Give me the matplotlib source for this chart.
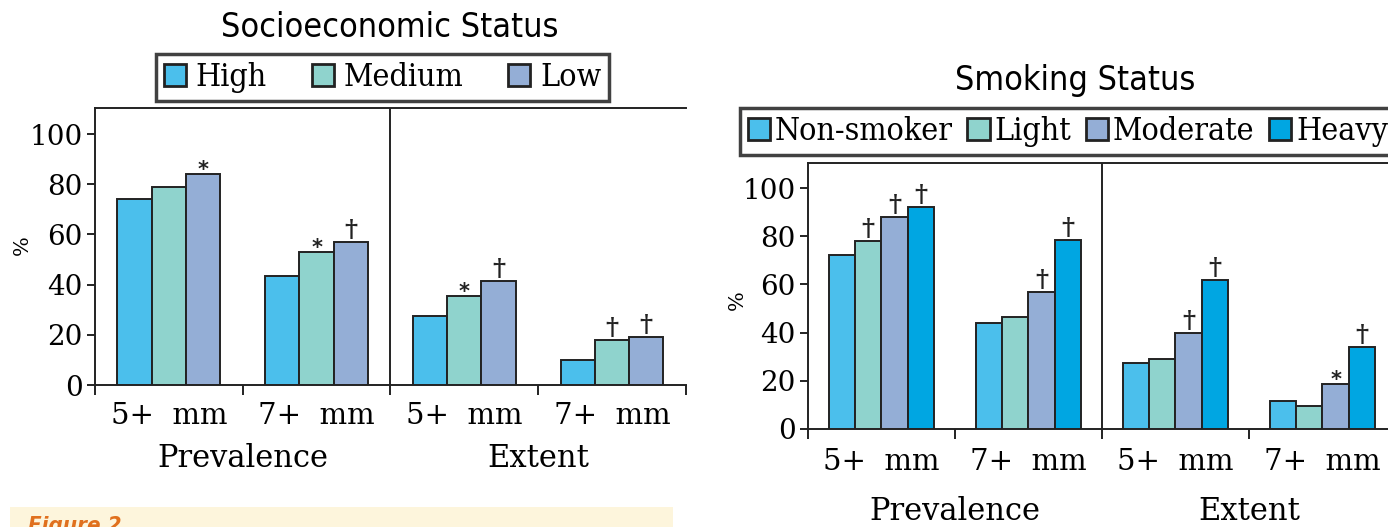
import numpy as np
import matplotlib
matplotlib.use("Agg")
import matplotlib.pyplot as plt
from matplotlib.patches import Rectangle, Patch

# data (%)
groups = ["5+  mm", "7+  mm", "5+  mm", "7+  mm"]
measures = ["Prevalence", "Extent"]

ses_names = ["High", "Medium", "Low"]
ses_vals = [
    [74, 43.5, 27.5, 10],
    [79, 53, 35.5, 18],
    [84, 57, 41.5, 19.3],
]
ses_marks = [
    ["", "", "", ""],
    ["", "*", "*", "†"],
    ["*", "†", "†", "†"],
]

smk_names = ["Non-smoker", "Light", "Moderate", "Heavy"]
smk_vals = [
    [72.2, 43.9, 27.5, 11.7],
    [78, 46.5, 29.2, 9.6],
    [87.8, 56.7, 39.7, 18.6],
    [92, 78.3, 62, 34.2],
]
smk_marks = [
    ["", "", "", ""],
    ["†", "", "", ""],
    ["†", "†", "†", "*"],
    ["†", "†", "†", "†"],
]

colors = ["#4bbfec", "#8fd3cd", "#94aed6", "#00a6e2"]
edge = "#222222"
serif = "DejaVu Serif"


def draw_panel(ax, vals, marks, bw, lab_pad, grp_y):
    centers = np.arange(len(groups)) + 0.5
    n = len(vals)
    for i, (v, m) in enumerate(zip(vals, marks)):
        xs = centers + (i - (n - 1) / 2) * bw
        ax.bar(xs, v, width=bw, color=colors[i], edgecolor=edge, linewidth=1.4, zorder=3)
        for x, y, s in zip(xs, v, m):
            if s == "*":
                ax.annotate("*", (x, y), xytext=(0, -4), textcoords="offset points",
                            ha="center", va="bottom", fontsize=15, fontweight="bold",
                            color="#222", family="DejaVu Sans")
            elif s == "†":
                ax.annotate("†", (x, y), xytext=(0, 0), textcoords="offset points",
                            ha="center", va="bottom", fontsize=18, fontweight="bold",
                            color="#222", family=serif)
    ax.set_xlim(0, 4)
    ax.set_ylim(0, 110.4)
    ax.set_yticks([0, 20, 40, 60, 80, 100])
    ax.set_xticks(centers)
    ax.set_xticklabels(groups, family=serif, fontsize=21)
    ax.set_xticks([0, 1, 2, 3, 4], minor=True)
    ax.tick_params(axis="x", which="major", length=0, pad=lab_pad)
    ax.tick_params(axis="x", which="minor", length=7, width=1.4, direction="out", color=edge)
    ax.tick_params(axis="y", length=6, width=1.4, color=edge, labelsize=20, pad=3)
    for t in ax.get_yticklabels():
        t.set_family(serif)
    for s in ["left", "bottom", "top"]:
        ax.spines[s].set_linewidth(1.4)
        ax.spines[s].set_color(edge)
    ax.spines["right"].set_visible(False)
    ax.axvline(2, color=edge, lw=1.4, zorder=4)
    tr = ax.get_xaxis_transform()
    ax.text(1, grp_y, measures[0], transform=tr, ha="center", va="center",
            family=serif, fontsize=22)
    ax.text(3, grp_y, measures[1], transform=tr, ha="center", va="center",
            family=serif, fontsize=22)


fig = plt.figure(figsize=(13.88, 5.27), dpi=100)

ax1 = fig.add_axes([0.0684, 0.2694, 0.4258, 0.5256])
draw_panel(ax1, ses_vals, ses_marks, 0.232, 12, -0.2635)

ax2 = fig.add_axes([0.5821, 0.186, 0.4236, 0.5047])
draw_panel(ax2, smk_vals, smk_marks, 0.18, 14, -0.312)

# "%" axis labels
fig.text(22 / 1388, 1 - 245 / 527, "%", rotation=90, ha="center", va="center",
         family=serif, fontsize=15)
fig.text(737 / 1388, 1 - 300 / 527, "%", rotation=90, ha="center", va="center",
         family=serif, fontsize=15)

# titles
fig.text(0.281, 0.947, "Socioeconomic Status", ha="center", va="center",
         fontsize=24.5, family="DejaVu Sans", fontstretch="condensed")
fig.text(0.7745, 0.848, "Smoking Status", ha="center", va="center",
         fontsize=24.5, family="DejaVu Sans", fontstretch="condensed")

# legends
h1 = [Patch(facecolor=colors[i], edgecolor=edge, linewidth=2) for i in range(3)]
leg1 = fig.legend(h1, ses_names, loc="center", bbox_to_anchor=(0.2756, 0.853), ncol=3,
                  frameon=True, fancybox=False, handlelength=0.7, handleheight=0.7,
                  handletextpad=0.3, columnspacing=1.4, borderpad=0.25,
                  prop={"family": serif, "size": 23, "stretch": "condensed"})
leg1.get_frame().set_edgecolor("#111")
leg1.get_frame().set_linewidth(2.5)

h2 = [Patch(facecolor=colors[i], edgecolor=edge, linewidth=2) for i in range(4)]
leg2 = fig.legend(h2, smk_names, loc="center left", bbox_to_anchor=(0.533, 0.7505), ncol=4,
                  frameon=True, fancybox=False, handlelength=0.7, handleheight=0.7,
                  handletextpad=0.15, columnspacing=0.45, borderpad=0.25, borderaxespad=0,
                  prop={"family": serif, "size": 23, "stretch": "condensed"})
leg2.get_frame().set_edgecolor("#111")
leg2.get_frame().set_linewidth(2.5)

# caption strip at bottom left
fig.patches.append(Rectangle((10 / 1388, 0), 663 / 1388, 20 / 527, transform=fig.transFigure,
                             facecolor="#fdf5dc", edgecolor="none", zorder=0))
fig.text(28 / 1388, 1 - 516 / 527, "Figure 2", ha="left", va="top", fontsize=16,
         fontweight="bold", style="italic", fontstretch="condensed",
         color="#e0701e", family="DejaVu Sans")

fig.savefig("out.png", dpi=100)
